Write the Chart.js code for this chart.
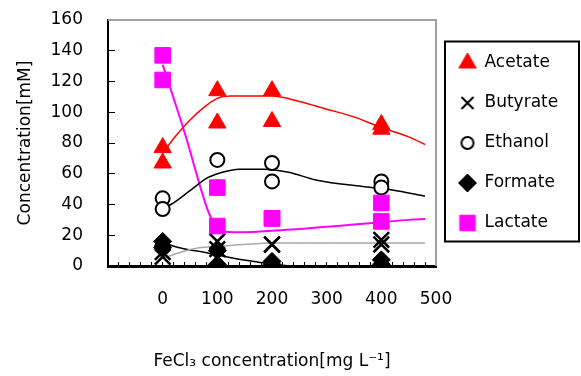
<!DOCTYPE html>
<html>
<head>
<meta charset="utf-8">
<script src="https://cdn.jsdelivr.net/npm/chart.js@4/dist/chart.umd.min.js"></script>
<style>
  html, body { margin: 0; padding: 0; background: #fff; }
  #wrap { width: 581px; height: 376px; position: relative; }
</style>
</head>
<body>
<div id="wrap"><canvas id="chart"></canvas></div>
<script>
// measured points (two replicates per dose)
const doses    = [0, 0, 100, 100, 200, 200, 400, 400];
const acetate  = [77, 67, 114, 93, 114, 94, 92, 89];
const butyrate = [9, 6, 16, 11, 14, 14, 17, 14];
const ethanol  = [44, 37, 69, 51, 67, 55, 55, 51];
const formate  = [16, 12, 10, 1, 3, 1, 4, 1];
const lactate  = [137, 121, 51, 26, 31, 31, 41, 29];

// fitted curves
const acetateFitX  = [0, 25, 50, 75, 100, 125, 200, 250, 300, 350, 400, 450, 480];
const acetateFitY  = [73.5, 85, 95, 103, 109, 110.5, 110.5, 107, 102, 97, 90, 84, 79];
const ethanolFitX  = [0, 15, 50, 80, 105, 140, 185, 230, 280, 370, 420, 480];
const ethanolFitY  = [38, 40, 49, 57, 60.5, 63, 63, 61, 56, 51.5, 49.5, 45.5];
const lactateFitX  = [0, 40, 85, 100, 130, 150, 200, 250, 300, 350, 400, 450, 480];
const lactateFitY  = [131, 87, 34, 25, 22, 22, 23, 24, 25.5, 27, 28.5, 30, 30.5];
const formateFitX  = [0, 33, 82, 130, 175, 205, 250, 480];
const formateFitY  = [15, 11.7, 8.5, 5, 2.5, 1, 0, 0];
const butyrateFitX = [0, 33, 64, 112, 160, 200, 480];
const butyrateFitY = [5, 9, 11.7, 13, 14.3, 15, 15];

const yTicks = [0, 20, 40, 60, 80, 100, 120, 140, 160];
const xLabels = [0, 100, 200, 300, 400, 500];

const pts = (xs, ys) => xs.map((x, i) => ({ x: x, y: ys[i] }));

Chart.defaults.font.family = "'DejaVu Sans', sans-serif";
Chart.defaults.font.size = 17;
Chart.defaults.color = '#000';

// small icons for the legend so each marker keeps its own size
const makeIcon = (style, radius, fill, stroke, lw) => {
    if (!Chart.helpers || !Chart.helpers.drawPoint) return style;
    const c = document.createElement('canvas');
    c.width = 30; c.height = 30;
    const g = c.getContext('2d');
    g.fillStyle = fill;
    g.strokeStyle = stroke;
    g.lineWidth = lw;
    Chart.helpers.drawPoint(g, { pointStyle: style, radius: radius, borderWidth: lw, rotation: 0 }, 15, 15);
    return c;
};
const icons = {
    'Acetate':  makeIcon('triangle', 10, '#ff0000', '#ff0000', 1),
    'Butyrate': makeIcon('crossRot', 8.5, '#000', '#000', 2),
    'Ethanol':  makeIcon('circle', 6, '#fff', '#000', 2),
    'Formate':  makeIcon('rectRot', 9, '#000', '#000', 1),
    'Lactate':  makeIcon('rect', 11, '#ff00ff', '#ff00ff', 1)
};

const marker = (label, data, style, radius, bg, border, bw, order) => ({
    label: label, data: pts(doses, data), showLine: false,
    pointStyle: style, pointRadius: radius, pointHoverRadius: radius,
    backgroundColor: bg, borderColor: border, borderWidth: bw, order: order
});
const fit = (label, xs, ys, color, width) => ({
    label: label, data: pts(xs, ys), showLine: true, pointRadius: 0,
    borderColor: color, borderWidth: width, backgroundColor: color,
    cubicInterpolationMode: 'monotone', order: 10
});

// plot frame (grey top/right) and box round the legend
const frame = {
    id: 'frame',
    beforeDatasetsDraw(chart) {
        const { ctx, chartArea: a } = chart;
        ctx.save();
        ctx.strokeStyle = '#a0a0a0';
        ctx.lineWidth = 2;
        ctx.beginPath();
        ctx.moveTo(a.left, a.top);
        ctx.lineTo(a.right, a.top);
        ctx.lineTo(a.right, a.bottom);
        ctx.stroke();
        ctx.restore();
    },
    beforeLayout(chart) {
        const lg = chart.legend;
        if (lg && !lg._fixed) {
            const orig = lg.fit.bind(lg);
            lg.fit = function () { orig(); this.width = 145; };
            lg._fixed = true;
        }
    },
    afterDraw(chart) {
        const boxes = chart.legend && chart.legend.legendHitBoxes;
        if (!boxes || !boxes.length) return;
        const first = boxes[0], last = boxes[boxes.length - 1];
        const left = first.left - 14, top = first.top - 13;
        const ctx = chart.ctx;
        ctx.save();
        ctx.strokeStyle = '#000';
        ctx.lineWidth = 2;
        ctx.strokeRect(left, top, chart.width - 2 - left, last.top + last.height + 10 - top);
        ctx.restore();
    }
};

new Chart(document.getElementById('chart'), {
    type: 'scatter',
    data: {
        datasets: [
            marker('Acetate', acetate, 'triangle', 10, '#ff0000', '#ff0000', 1, 2),
            marker('Butyrate', butyrate, 'crossRot', 11, '#000', '#000', 2.5, 3),
            marker('Ethanol', ethanol, 'circle', 7, '#fff', '#000', 2, 4),
            marker('Formate', formate, 'rectRot', 9, '#000', '#000', 1, 5),
            marker('Lactate', lactate, 'rect', 11, '#ff00ff', '#ff00ff', 1, 1),
            fit('Acetate fit', acetateFitX, acetateFitY, '#ff0000', 1.5),
            fit('Butyrate fit', butyrateFitX, butyrateFitY, '#a8a8a8', 1.5),
            fit('Ethanol fit', ethanolFitX, ethanolFitY, '#000', 1.5),
            fit('Formate fit', formateFitX, formateFitY, '#000', 1.5),
            fit('Lactate fit', lactateFitX, lactateFitY, '#ff00ff', 2)
        ]
    },
    options: {
        responsive: true,
        maintainAspectRatio: false,
        animation: false,
        layout: { padding: { top: 20, right: 0, bottom: 0, left: 0 } },
        plugins: {
            legend: {
                position: 'right',
                align: 'center',
                fullSize: false,
                labels: {
                    usePointStyle: true,
                    padding: 23,
                    color: '#000',
                    font: { size: 17 },
                    generateLabels: (chart) => {
                        const items = Chart.defaults.plugins.legend.labels.generateLabels(chart);
                        items.forEach(it => { if (icons[it.text]) it.pointStyle = icons[it.text]; });
                        return items;
                    },
                    filter: (item) => !!icons[item.text],
                    sort: (a, b) => a.datasetIndex - b.datasetIndex
                }
            },
            tooltip: { enabled: false }
        },
        scales: {
            x: {
                type: 'linear',
                min: -100,
                max: 500,
                afterFit: (s) => { s.height = 110; s.paddingLeft = 10; s.paddingRight = 10; },
                border: { color: '#000', width: 3 },
                grid: { drawOnChartArea: false, tickLength: -4, color: '#000', lineWidth: 1 },
                ticks: {
                    stepSize: 20,
                    autoSkip: false,
                    maxRotation: 0,
                    padding: 27,
                    color: '#000',
                    callback: (v) => xLabels.includes(v) ? String(v) : ''
                },
                title: {
                    display: true,
                    text: 'FeCl₃ concentration[mg L⁻¹]',
                    color: '#000',
                    font: { size: 17 },
                    padding: { top: 0, bottom: 4 }
                }
            },
            y: {
                min: yTicks[0],
                max: yTicks[yTicks.length - 1],
                afterFit: (s) => { s.width = 108; s.paddingTop = 10; s.paddingBottom = 10; },
                afterBuildTicks: (s) => { s.ticks = yTicks.map(v => ({ value: v })); },
                border: { color: '#000', width: 2 },
                grid: { drawOnChartArea: false, tickLength: -7, color: '#000', lineWidth: 1 },
                ticks: { padding: 32, color: '#000' },
                title: {
                    display: true,
                    text: 'Concentration[mM]',
                    color: '#000',
                    font: { size: 17 },
                    padding: { top: 15, bottom: 0 }
                }
            }
        }
    },
    plugins: [frame]
});
</script>
</body>
</html>
